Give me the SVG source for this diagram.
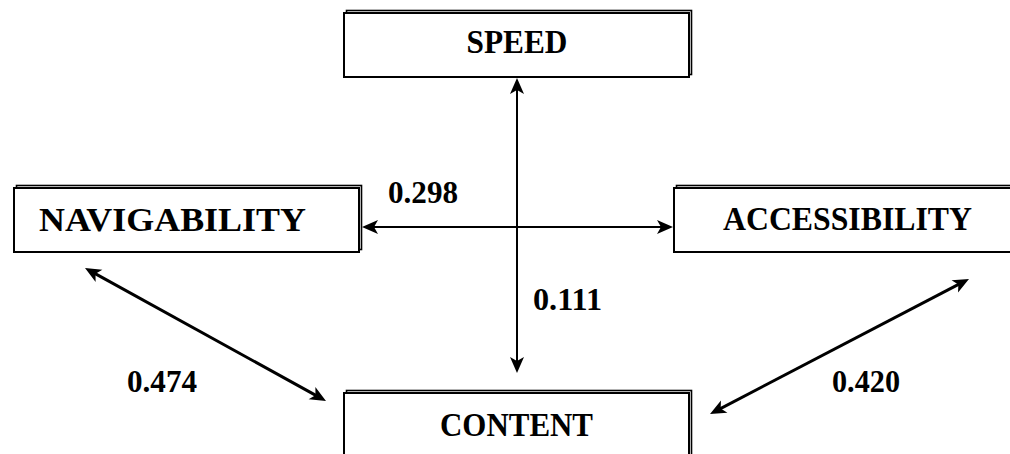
<svg xmlns="http://www.w3.org/2000/svg" width="1010" height="454" viewBox="0 0 1010 454">
<style>
.bg{fill:#ffffff}
.sh{fill:#ffffff;stroke:#000000;stroke-width:1.6}
.box{fill:#ffffff;stroke:#000000;stroke-width:2}
.t{font-family:"Liberation Serif","Times New Roman",serif;font-weight:bold;font-size:33px;fill:#000000;text-anchor:middle}
.n{font-family:"Liberation Serif","Times New Roman",serif;font-weight:bold;font-size:32px;fill:#000000;text-anchor:middle}
.c{stroke:#000000;fill:none}
</style>
<defs>
<marker id="ah" viewBox="-9 -8 19 16" markerWidth="19" markerHeight="16" refX="0" refY="0" markerUnits="userSpaceOnUse" orient="auto-start-reverse">
<path d="M8,0 L-8,-7 L-4,0 L-8,7 Z" fill="#000000"/>
</marker>
</defs>
<rect class="bg" x="0" y="0" width="1010" height="454"/>
<g id="speed">
<rect class="sh" x="346.5" y="10.5" width="345" height="64"/>
<rect class="box" x="344" y="13" width="345" height="64"/>
<text class="t" x="517" y="53" textLength="101" lengthAdjust="spacingAndGlyphs">SPEED</text>
</g>
<g id="navigability">
<rect class="sh" x="16.5" y="185.5" width="345" height="64"/>
<rect class="box" x="14" y="188" width="345" height="64"/>
<text class="t" x="172.5" y="231" textLength="267" lengthAdjust="spacingAndGlyphs">NAVIGABILITY</text>
</g>
<g id="accessibility">
<rect class="sh" x="676.5" y="185.5" width="345" height="64"/>
<rect class="box" x="674" y="188" width="345" height="64"/>
<text class="t" x="847.5" y="230" textLength="249" lengthAdjust="spacingAndGlyphs">ACCESSIBILITY</text>
</g>
<g id="content">
<rect class="sh" x="346.5" y="390.5" width="345" height="70"/>
<rect class="box" x="344" y="393" width="345" height="70"/>
<text class="t" x="516.5" y="436" textLength="153" lengthAdjust="spacingAndGlyphs">CONTENT</text>
</g>
<g id="connectors">
<line class="c" stroke-width="2" x1="517" y1="86" x2="517" y2="365" marker-start="url(#ah)" marker-end="url(#ah)"/>
<line class="c" stroke-width="2" x1="370" y1="227" x2="665" y2="227" marker-start="url(#ah)" marker-end="url(#ah)"/>
<line class="c" stroke-width="3" x1="92" y1="271.9" x2="319" y2="397.1" marker-start="url(#ah)" marker-end="url(#ah)"/>
<line class="c" stroke-width="3" x1="961.9" y1="282.7" x2="717.1" y2="410.3" marker-start="url(#ah)" marker-end="url(#ah)"/>
<text class="n" x="423" y="203" textLength="70" lengthAdjust="spacingAndGlyphs">0.298</text>
<text class="n" x="567.5" y="310" textLength="69" lengthAdjust="spacingAndGlyphs">0.111</text>
<text class="n" x="162" y="392" textLength="70" lengthAdjust="spacingAndGlyphs">0.474</text>
<text class="n" x="866" y="392" textLength="68" lengthAdjust="spacingAndGlyphs">0.420</text>
</g>
</svg>
